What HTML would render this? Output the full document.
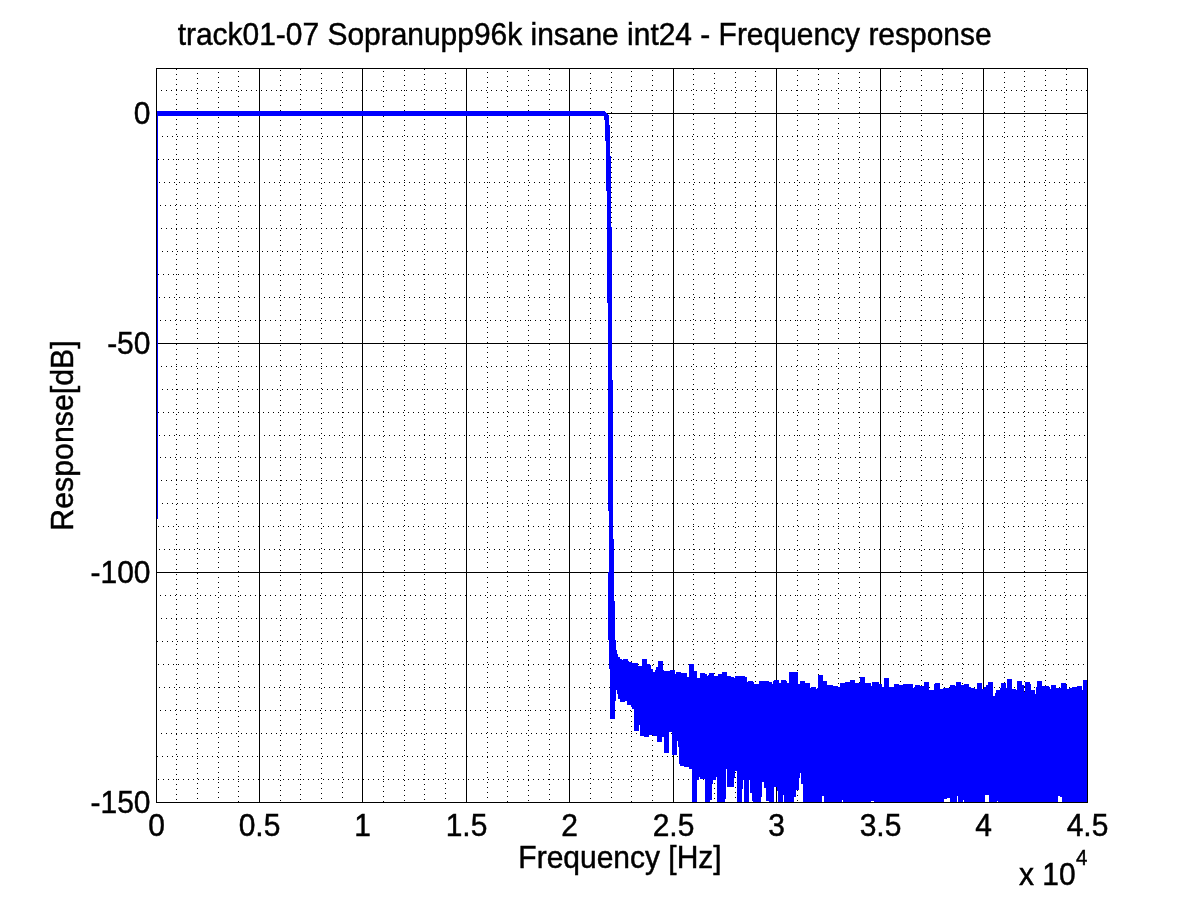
<!DOCTYPE html>
<html><head><meta charset="utf-8"><title>Frequency response</title>
<style>
html,body{margin:0;padding:0;background:#fff;}
body{width:1201px;height:901px;overflow:hidden;}
svg{display:block;}
text{font-family:"Liberation Sans",Arial,Helvetica,sans-serif;fill:#000;stroke:#000;stroke-width:0.45px;}
.tk{font-size:30px;}
.ti{font-size:29.95px;}
.lb{font-size:30px;}
</style></head><body>
<svg width="1201" height="901" viewBox="0 0 1201 901">
<rect x="0" y="0" width="1201" height="901" fill="#fff"/>
<g shape-rendering="crispEdges" stroke="#000" stroke-width="1" fill="none">

<line x1="176.5" y1="69" x2="176.5" y2="802" stroke-dasharray="1 4"/>
<line x1="197.5" y1="68" x2="197.5" y2="802" stroke-dasharray="1 4"/>
<line x1="218.5" y1="72" x2="218.5" y2="802" stroke-dasharray="1 4"/>
<line x1="238.5" y1="71" x2="238.5" y2="802" stroke-dasharray="1 4"/>
<line x1="280.5" y1="70" x2="280.5" y2="802" stroke-dasharray="1 4"/>
<line x1="300.5" y1="69" x2="300.5" y2="802" stroke-dasharray="1 4"/>
<line x1="321.5" y1="68" x2="321.5" y2="802" stroke-dasharray="1 4"/>
<line x1="342.5" y1="72" x2="342.5" y2="802" stroke-dasharray="1 4"/>
<line x1="383.5" y1="71" x2="383.5" y2="802" stroke-dasharray="1 4"/>
<line x1="404.5" y1="70" x2="404.5" y2="802" stroke-dasharray="1 4"/>
<line x1="424.5" y1="69" x2="424.5" y2="802" stroke-dasharray="1 4"/>
<line x1="445.5" y1="68" x2="445.5" y2="802" stroke-dasharray="1 4"/>
<line x1="487.5" y1="72" x2="487.5" y2="802" stroke-dasharray="1 4"/>
<line x1="507.5" y1="71" x2="507.5" y2="802" stroke-dasharray="1 4"/>
<line x1="528.5" y1="70" x2="528.5" y2="802" stroke-dasharray="1 4"/>
<line x1="549.5" y1="69" x2="549.5" y2="802" stroke-dasharray="1 4"/>
<line x1="590.5" y1="68" x2="590.5" y2="802" stroke-dasharray="1 4"/>
<line x1="611.5" y1="72" x2="611.5" y2="802" stroke-dasharray="1 4"/>
<line x1="631.5" y1="71" x2="631.5" y2="802" stroke-dasharray="1 4"/>
<line x1="652.5" y1="70" x2="652.5" y2="802" stroke-dasharray="1 4"/>
<line x1="693.5" y1="69" x2="693.5" y2="802" stroke-dasharray="1 4"/>
<line x1="714.5" y1="68" x2="714.5" y2="802" stroke-dasharray="1 4"/>
<line x1="735.5" y1="72" x2="735.5" y2="802" stroke-dasharray="1 4"/>
<line x1="755.5" y1="71" x2="755.5" y2="802" stroke-dasharray="1 4"/>
<line x1="797.5" y1="70" x2="797.5" y2="802" stroke-dasharray="1 4"/>
<line x1="818.5" y1="69" x2="818.5" y2="802" stroke-dasharray="1 4"/>
<line x1="838.5" y1="68" x2="838.5" y2="802" stroke-dasharray="1 4"/>
<line x1="859.5" y1="72" x2="859.5" y2="802" stroke-dasharray="1 4"/>
<line x1="900.5" y1="71" x2="900.5" y2="802" stroke-dasharray="1 4"/>
<line x1="921.5" y1="70" x2="921.5" y2="802" stroke-dasharray="1 4"/>
<line x1="942.5" y1="69" x2="942.5" y2="802" stroke-dasharray="1 4"/>
<line x1="962.5" y1="68" x2="962.5" y2="802" stroke-dasharray="1 4"/>
<line x1="1004.5" y1="72" x2="1004.5" y2="802" stroke-dasharray="1 4"/>
<line x1="1024.5" y1="71" x2="1024.5" y2="802" stroke-dasharray="1 4"/>
<line x1="1045.5" y1="70" x2="1045.5" y2="802" stroke-dasharray="1 4"/>
<line x1="1066.5" y1="69" x2="1066.5" y2="802" stroke-dasharray="1 4"/>
<line x1="161" y1="90.5" x2="1087" y2="90.5" stroke-dasharray="1 4"/>
<line x1="157" y1="136.5" x2="1087" y2="136.5" stroke-dasharray="1 4"/>
<line x1="158" y1="159.5" x2="1087" y2="159.5" stroke-dasharray="1 4"/>
<line x1="159" y1="182.5" x2="1087" y2="182.5" stroke-dasharray="1 4"/>
<line x1="160" y1="205.5" x2="1087" y2="205.5" stroke-dasharray="1 4"/>
<line x1="161" y1="228.5" x2="1087" y2="228.5" stroke-dasharray="1 4"/>
<line x1="157" y1="251.5" x2="1087" y2="251.5" stroke-dasharray="1 4"/>
<line x1="158" y1="274.5" x2="1087" y2="274.5" stroke-dasharray="1 4"/>
<line x1="159" y1="297.5" x2="1087" y2="297.5" stroke-dasharray="1 4"/>
<line x1="160" y1="320.5" x2="1087" y2="320.5" stroke-dasharray="1 4"/>
<line x1="161" y1="366.5" x2="1087" y2="366.5" stroke-dasharray="1 4"/>
<line x1="157" y1="389.5" x2="1087" y2="389.5" stroke-dasharray="1 4"/>
<line x1="158" y1="412.5" x2="1087" y2="412.5" stroke-dasharray="1 4"/>
<line x1="159" y1="435.5" x2="1087" y2="435.5" stroke-dasharray="1 4"/>
<line x1="160" y1="457.5" x2="1087" y2="457.5" stroke-dasharray="1 4"/>
<line x1="161" y1="480.5" x2="1087" y2="480.5" stroke-dasharray="1 4"/>
<line x1="157" y1="503.5" x2="1087" y2="503.5" stroke-dasharray="1 4"/>
<line x1="158" y1="526.5" x2="1087" y2="526.5" stroke-dasharray="1 4"/>
<line x1="159" y1="549.5" x2="1087" y2="549.5" stroke-dasharray="1 4"/>
<line x1="160" y1="595.5" x2="1087" y2="595.5" stroke-dasharray="1 4"/>
<line x1="161" y1="618.5" x2="1087" y2="618.5" stroke-dasharray="1 4"/>
<line x1="157" y1="641.5" x2="1087" y2="641.5" stroke-dasharray="1 4"/>
<line x1="158" y1="664.5" x2="1087" y2="664.5" stroke-dasharray="1 4"/>
<line x1="159" y1="687.5" x2="1087" y2="687.5" stroke-dasharray="1 4"/>
<line x1="160" y1="710.5" x2="1087" y2="710.5" stroke-dasharray="1 4"/>
<line x1="161" y1="733.5" x2="1087" y2="733.5" stroke-dasharray="1 4"/>
<line x1="157" y1="756.5" x2="1087" y2="756.5" stroke-dasharray="1 4"/>
<line x1="158" y1="779.5" x2="1087" y2="779.5" stroke-dasharray="1 4"/>
<line x1="259.5" y1="68" x2="259.5" y2="802"/>
<line x1="362.5" y1="68" x2="362.5" y2="802"/>
<line x1="466.5" y1="68" x2="466.5" y2="802"/>
<line x1="569.5" y1="68" x2="569.5" y2="802"/>
<line x1="673.5" y1="68" x2="673.5" y2="802"/>
<line x1="776.5" y1="68" x2="776.5" y2="802"/>
<line x1="880.5" y1="68" x2="880.5" y2="802"/>
<line x1="983.5" y1="68" x2="983.5" y2="802"/>
<line x1="156" y1="113.5" x2="1087" y2="113.5"/>
<line x1="156" y1="343.5" x2="1087" y2="343.5"/>
<line x1="156" y1="572.5" x2="1087" y2="572.5"/>
</g>
<g shape-rendering="crispEdges" fill="#0000ff" stroke="none">
<rect x="157" y="111" width="447" height="5"/>
<rect x="157" y="116" width="1" height="403"/>
<polygon points="603,111 604.7,111 609,115.3 609,116 603,116"/>
<rect x="604" y="116" width="5" height="4"/>
<rect x="605" y="120" width="4" height="5"/>
<rect x="605" y="125" width="5" height="16"/>
<rect x="606" y="141" width="4" height="15"/>
<rect x="606" y="156" width="5" height="35"/>
<rect x="607" y="191" width="4" height="36"/>
<rect x="607" y="227" width="5" height="76"/>
<rect x="608" y="303" width="4" height="77"/>
<rect x="608" y="380" width="5" height="131"/>
<rect x="609" y="511" width="4" height="28"/>
<rect x="609" y="539" width="5" height="33"/>
<rect x="608" y="572" width="6" height="29"/>
<rect x="608" y="601" width="7" height="39"/>
<rect x="609" y="640" width="7" height="10"/>
<rect x="609" y="650" width="1" height="19"/>
<rect x="610" y="650" width="5" height="69"/>
<rect x="615" y="650" width="1" height="51"/>
<rect x="616" y="650" width="1" height="40"/>
<rect x="617" y="654" width="1" height="40"/>
<rect x="618" y="657" width="2" height="42"/>
<rect x="620" y="659" width="2" height="43"/>
<rect x="622" y="660" width="1" height="42"/>
<rect x="623" y="659" width="2" height="43"/>
<rect x="625" y="659" width="2" height="42"/>
<rect x="627" y="659" width="1" height="46"/>
<rect x="628" y="661" width="1" height="44"/>
<rect x="629" y="662" width="2" height="43"/>
<rect x="631" y="662" width="1" height="45"/>
<rect x="632" y="663" width="2" height="46"/>
<rect x="634" y="663" width="4" height="68"/>
<rect x="638" y="666" width="1" height="65"/>
<rect x="639" y="666" width="1" height="59"/>
<rect x="640" y="666" width="2" height="70"/>
<rect x="642" y="659" width="2" height="77"/>
<rect x="644" y="659" width="3" height="78"/>
<rect x="647" y="664" width="2" height="73"/>
<rect x="649" y="664" width="1" height="71"/>
<rect x="650" y="665" width="1" height="70"/>
<rect x="651" y="669" width="2" height="66"/>
<rect x="653" y="672" width="2" height="64"/>
<rect x="655" y="670" width="1" height="66"/>
<rect x="656" y="667" width="1" height="69"/>
<rect x="657" y="667" width="1" height="75"/>
<rect x="658" y="661" width="4" height="81"/>
<rect x="662" y="661" width="1" height="76"/>
<rect x="663" y="670" width="1" height="67"/>
<rect x="664" y="671" width="5" height="82"/>
<rect x="669" y="671" width="1" height="61"/>
<rect x="670" y="670" width="2" height="62"/>
<rect x="672" y="670" width="3" height="85"/>
<rect x="675" y="674" width="1" height="81"/>
<rect x="676" y="672" width="1" height="83"/>
<rect x="677" y="672" width="1" height="69"/>
<rect x="678" y="672" width="1" height="75"/>
<rect x="679" y="672" width="1" height="92"/>
<rect x="680" y="672" width="1" height="94"/>
<rect x="681" y="673" width="3" height="93"/>
<rect x="684" y="673" width="3" height="94"/>
<rect x="687" y="677" width="2" height="90"/>
<rect x="689" y="664" width="3" height="105"/>
<rect x="692" y="664" width="2" height="138"/>
<rect x="694" y="671" width="3" height="131"/>
<rect x="697" y="678" width="2" height="102"/>
<rect x="699" y="678" width="1" height="99"/>
<rect x="700" y="673" width="5" height="106"/>
<rect x="705" y="674" width="2" height="128"/>
<rect x="707" y="676" width="1" height="126"/>
<rect x="708" y="675" width="1" height="127"/>
<rect x="709" y="673" width="1" height="129"/>
<rect x="710" y="673" width="2" height="127"/>
<rect x="712" y="673" width="1" height="111"/>
<rect x="713" y="673" width="1" height="107"/>
<rect x="714" y="676" width="2" height="104"/>
<rect x="716" y="676" width="1" height="101"/>
<rect x="717" y="676" width="1" height="126"/>
<rect x="718" y="674" width="4" height="128"/>
<rect x="722" y="672" width="3" height="130"/>
<rect x="725" y="672" width="1" height="127"/>
<rect x="726" y="672" width="1" height="97"/>
<rect x="727" y="676" width="4" height="111"/>
<rect x="731" y="677" width="3" height="110"/>
<rect x="734" y="678" width="1" height="100"/>
<rect x="735" y="676" width="2" height="95"/>
<rect x="737" y="676" width="5" height="126"/>
<rect x="742" y="676" width="1" height="113"/>
<rect x="743" y="676" width="1" height="104"/>
<rect x="744" y="676" width="1" height="126"/>
<rect x="745" y="677" width="2" height="125"/>
<rect x="747" y="682" width="1" height="120"/>
<rect x="748" y="681" width="1" height="121"/>
<rect x="749" y="681" width="1" height="99"/>
<rect x="750" y="681" width="2" height="112"/>
<rect x="752" y="681" width="1" height="120"/>
<rect x="753" y="682" width="1" height="120"/>
<rect x="754" y="684" width="5" height="118"/>
<rect x="759" y="681" width="2" height="121"/>
<rect x="761" y="681" width="1" height="116"/>
<rect x="762" y="681" width="2" height="101"/>
<rect x="764" y="681" width="2" height="107"/>
<rect x="766" y="681" width="3" height="120"/>
<rect x="769" y="682" width="3" height="120"/>
<rect x="772" y="684" width="1" height="118"/>
<rect x="773" y="681" width="1" height="121"/>
<rect x="774" y="680" width="3" height="107"/>
<rect x="777" y="680" width="1" height="111"/>
<rect x="778" y="680" width="1" height="122"/>
<rect x="779" y="683" width="2" height="119"/>
<rect x="781" y="680" width="2" height="122"/>
<rect x="783" y="680" width="1" height="115"/>
<rect x="784" y="680" width="2" height="122"/>
<rect x="786" y="681" width="1" height="121"/>
<rect x="787" y="683" width="2" height="119"/>
<rect x="789" y="672" width="5" height="130"/>
<rect x="794" y="672" width="2" height="125"/>
<rect x="796" y="672" width="2" height="118"/>
<rect x="798" y="684" width="1" height="106"/>
<rect x="799" y="684" width="1" height="94"/>
<rect x="800" y="681" width="1" height="92"/>
<rect x="801" y="681" width="2" height="103"/>
<rect x="803" y="681" width="2" height="121"/>
<rect x="805" y="683" width="5" height="119"/>
<rect x="810" y="688" width="1" height="114"/>
<rect x="811" y="687" width="5" height="115"/>
<rect x="816" y="689" width="1" height="113"/>
<rect x="817" y="688" width="1" height="114"/>
<rect x="818" y="675" width="4" height="127"/>
<rect x="822" y="675" width="1" height="121"/>
<rect x="823" y="681" width="1" height="115"/>
<rect x="824" y="681" width="3" height="121"/>
<rect x="827" y="685" width="6" height="117"/>
<rect x="833" y="686" width="5" height="116"/>
<rect x="838" y="687" width="2" height="115"/>
<rect x="840" y="683" width="2" height="119"/>
<rect x="842" y="683" width="1" height="117"/>
<rect x="843" y="683" width="2" height="119"/>
<rect x="845" y="682" width="5" height="120"/>
<rect x="850" y="680" width="5" height="122"/>
<rect x="855" y="683" width="5" height="119"/>
<rect x="860" y="677" width="5" height="125"/>
<rect x="865" y="683" width="6" height="119"/>
<rect x="871" y="686" width="1" height="115"/>
<rect x="872" y="682" width="2" height="119"/>
<rect x="874" y="682" width="5" height="120"/>
<rect x="879" y="684" width="3" height="118"/>
<rect x="882" y="687" width="2" height="115"/>
<rect x="884" y="678" width="5" height="124"/>
<rect x="889" y="687" width="5" height="115"/>
<rect x="894" y="684" width="5" height="118"/>
<rect x="899" y="685" width="4" height="117"/>
<rect x="903" y="684" width="10" height="118"/>
<rect x="913" y="688" width="1" height="114"/>
<rect x="914" y="687" width="1" height="115"/>
<rect x="915" y="685" width="5" height="117"/>
<rect x="920" y="686" width="4" height="116"/>
<rect x="924" y="682" width="5" height="120"/>
<rect x="929" y="690" width="5" height="112"/>
<rect x="934" y="684" width="1" height="118"/>
<rect x="935" y="683" width="5" height="119"/>
<rect x="940" y="689" width="3" height="113"/>
<rect x="943" y="688" width="1" height="114"/>
<rect x="944" y="688" width="3" height="111"/>
<rect x="947" y="688" width="3" height="110"/>
<rect x="950" y="685" width="5" height="117"/>
<rect x="955" y="686" width="1" height="116"/>
<rect x="956" y="682" width="1" height="120"/>
<rect x="957" y="682" width="1" height="114"/>
<rect x="958" y="682" width="3" height="120"/>
<rect x="961" y="685" width="2" height="117"/>
<rect x="963" y="685" width="1" height="115"/>
<rect x="964" y="684" width="5" height="118"/>
<rect x="969" y="687" width="2" height="115"/>
<rect x="971" y="688" width="4" height="114"/>
<rect x="975" y="689" width="2" height="113"/>
<rect x="977" y="683" width="5" height="119"/>
<rect x="982" y="689" width="2" height="113"/>
<rect x="984" y="687" width="1" height="115"/>
<rect x="985" y="687" width="1" height="108"/>
<rect x="986" y="685" width="2" height="110"/>
<rect x="988" y="682" width="1" height="113"/>
<rect x="989" y="682" width="4" height="120"/>
<rect x="993" y="696" width="2" height="106"/>
<rect x="995" y="693" width="1" height="109"/>
<rect x="996" y="690" width="1" height="112"/>
<rect x="997" y="690" width="1" height="111"/>
<rect x="998" y="690" width="2" height="112"/>
<rect x="1000" y="688" width="1" height="114"/>
<rect x="1001" y="683" width="5" height="119"/>
<rect x="1006" y="688" width="1" height="114"/>
<rect x="1007" y="679" width="5" height="123"/>
<rect x="1012" y="689" width="4" height="113"/>
<rect x="1016" y="690" width="1" height="112"/>
<rect x="1017" y="681" width="5" height="121"/>
<rect x="1022" y="685" width="2" height="117"/>
<rect x="1024" y="692" width="1" height="110"/>
<rect x="1025" y="682" width="5" height="120"/>
<rect x="1030" y="684" width="1" height="118"/>
<rect x="1031" y="690" width="4" height="112"/>
<rect x="1035" y="694" width="1" height="108"/>
<rect x="1036" y="687" width="1" height="115"/>
<rect x="1037" y="681" width="5" height="121"/>
<rect x="1042" y="686" width="7" height="116"/>
<rect x="1049" y="687" width="1" height="115"/>
<rect x="1050" y="689" width="1" height="113"/>
<rect x="1051" y="685" width="5" height="117"/>
<rect x="1056" y="688" width="2" height="114"/>
<rect x="1058" y="688" width="2" height="108"/>
<rect x="1060" y="688" width="1" height="109"/>
<rect x="1061" y="683" width="1" height="114"/>
<rect x="1062" y="683" width="4" height="119"/>
<rect x="1066" y="685" width="1" height="117"/>
<rect x="1067" y="689" width="2" height="113"/>
<rect x="1069" y="688" width="3" height="114"/>
<rect x="1072" y="687" width="5" height="115"/>
<rect x="1077" y="686" width="5" height="116"/>
<rect x="1082" y="690" width="1" height="112"/>
<rect x="1083" y="680" width="4" height="122"/>
</g>
<rect shape-rendering="crispEdges" stroke="#000" stroke-width="1" fill="none" x="156.5" y="68.5" width="931" height="734"/>
<text class="tk" transform="translate(156.5,836) scale(1,1.065)" text-anchor="middle">0</text>
<text class="tk" transform="translate(259.5,836) scale(1,1.065)" text-anchor="middle">0.5</text>
<text class="tk" transform="translate(362.5,836) scale(1,1.065)" text-anchor="middle">1</text>
<text class="tk" transform="translate(466.5,836) scale(1,1.065)" text-anchor="middle">1.5</text>
<text class="tk" transform="translate(569.5,836) scale(1,1.065)" text-anchor="middle">2</text>
<text class="tk" transform="translate(673.5,836) scale(1,1.065)" text-anchor="middle">2.5</text>
<text class="tk" transform="translate(776.5,836) scale(1,1.065)" text-anchor="middle">3</text>
<text class="tk" transform="translate(880.5,836) scale(1,1.065)" text-anchor="middle">3.5</text>
<text class="tk" transform="translate(983.5,836) scale(1,1.065)" text-anchor="middle">4</text>
<text class="tk" transform="translate(1087.5,836) scale(1,1.065)" text-anchor="middle">4.5</text>
<text class="tk" transform="translate(150.5,124.0) scale(1,1.065)" text-anchor="end">0</text>
<text class="tk" transform="translate(150.5,354.0) scale(1,1.065)" text-anchor="end">-50</text>
<text class="tk" transform="translate(150.5,583.0) scale(1,1.065)" text-anchor="end">-100</text>
<text class="tk" transform="translate(150.5,813.0) scale(1,1.065)" text-anchor="end">-150</text>
<text class="ti" transform="translate(584.6,45) scale(1,1.04)" text-anchor="middle">track01-07 Sopranupp96k insane int24 - Frequency response</text>
<text class="lb" transform="translate(620,868) scale(1,1.04)" text-anchor="middle">Frequency [Hz]</text>
<text class="lb" transform="translate(73,435.5) rotate(-90) scale(1,1.04)" text-anchor="middle" style="font-size:30.3px">Response[dB]</text>
<text class="tk" transform="translate(1019,885) scale(1,1.065)">x 10</text>
<text class="tk" transform="translate(1076,865) scale(1,1.12)" style="font-size:20.5px">4</text>
</svg></body></html>
